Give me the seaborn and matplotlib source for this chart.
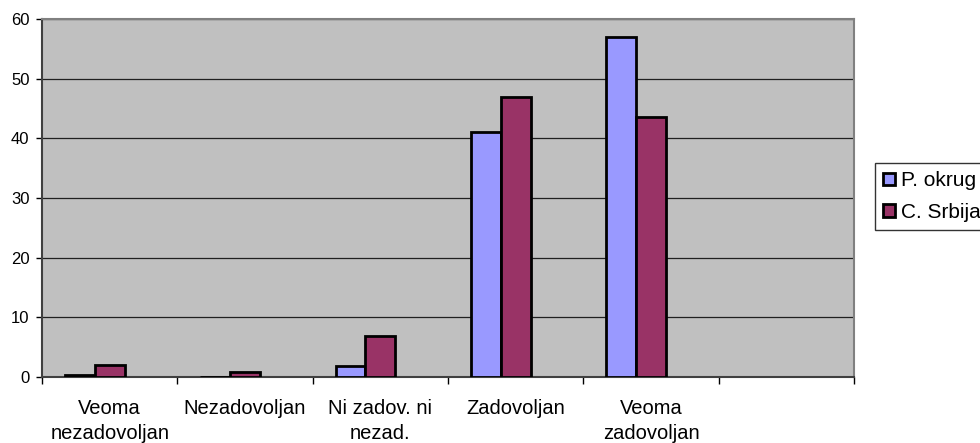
import pandas as pd
import numpy as np
import matplotlib
matplotlib.use("Agg")
import matplotlib.pyplot as plt
import seaborn as sns
from matplotlib.patches import Patch

categories = ["Veoma nezadovoljan", "Nezadovoljan", "Ni zadov. ni nezad.",
              "Zadovoljan", "Veoma zadovoljan", "-"]
tick_labels = ["Veoma\nnezadovoljan", "Nezadovoljan", "Ni zadov. ni\nnezad.",
               "Zadovoljan", "Veoma\nzadovoljan", ""]
p_okrug = [0.4, 0, 1.8, 41, 57]
c_srbija = [2, 0.8, 6.9, 46.9, 43.6]
series = ["P. okrug", "C. Srbija"]
colors = {"P. okrug": "#9999FF", "C. Srbija": "#993366", "blank": "#FFFFFF"}

rows = []
for cat, a, b in zip(categories[:5], p_okrug, c_srbija):
    rows.append({"cat": cat, "series": "P. okrug", "value": a})
    rows.append({"cat": cat, "series": "C. Srbija", "value": b})
df = pd.DataFrame(rows)

sns.set_style("white")
plt.rcParams["font.family"] = ["Liberation Sans", "DejaVu Sans"]
plt.rcParams["text.color"] = "black"
plt.rcParams["xtick.color"] = "black"
plt.rcParams["ytick.color"] = "black"

fig = plt.figure(figsize=(9.8, 4.43), dpi=100)
ax = fig.add_axes([0.0429, 0.149, 0.8286, 0.808])
ax.set_facecolor("#C0C0C0")

sns.barplot(data=df, x="cat", y="value", hue="series",
            order=categories, hue_order=series + ["blank"],
            palette=colors, saturation=1, width=0.66, gap=0, edgecolor="black",
            linewidth=2, legend=False, ax=ax, zorder=3)

ax.set_xlim(-0.5, 5.5)
ax.set_ylim(0, 60)
ax.set_yticks(np.arange(0, 61, 10))
ax.yaxis.grid(True, color="#202020", linewidth=0.9, zorder=0)
ax.set_axisbelow(True)
ax.set_xlabel("")
ax.set_ylabel("")

ax.set_xticks(range(6))
ax.set_xticklabels(tick_labels, fontsize=14.5, linespacing=1.4)
ax.set_xticks(np.arange(-0.5, 6, 1), minor=True)
ax.tick_params(axis="x", which="major", length=0, pad=15.5)
ax.tick_params(axis="x", which="minor", length=5, width=1, color="black", direction="out")
ax.tick_params(axis="y", length=4, width=1, color="black", direction="out", pad=5, labelsize=12)
ax.tick_params(bottom=True, left=True, which="both")

for side in ["top", "right"]:
    ax.spines[side].set_color("#808080")
    ax.spines[side].set_linewidth(1.5)
for side in ["left", "bottom"]:
    ax.spines[side].set_color("#404040")
    ax.spines[side].set_linewidth(1.5)

handles = [Patch(facecolor=colors[s], edgecolor="black", linewidth=2) for s in series]
fig.legend(handles, series, loc="upper left", bbox_to_anchor=(875 / 980, 1 - 163 / 443),
           fontsize=15, frameon=True, fancybox=False, edgecolor="black",
           handlelength=0.55, handleheight=0.55, handletextpad=0.3,
           borderpad=0.4, labelspacing=0.6, borderaxespad=0)

fig.savefig("out.png", dpi=100)
plt.close(fig)
